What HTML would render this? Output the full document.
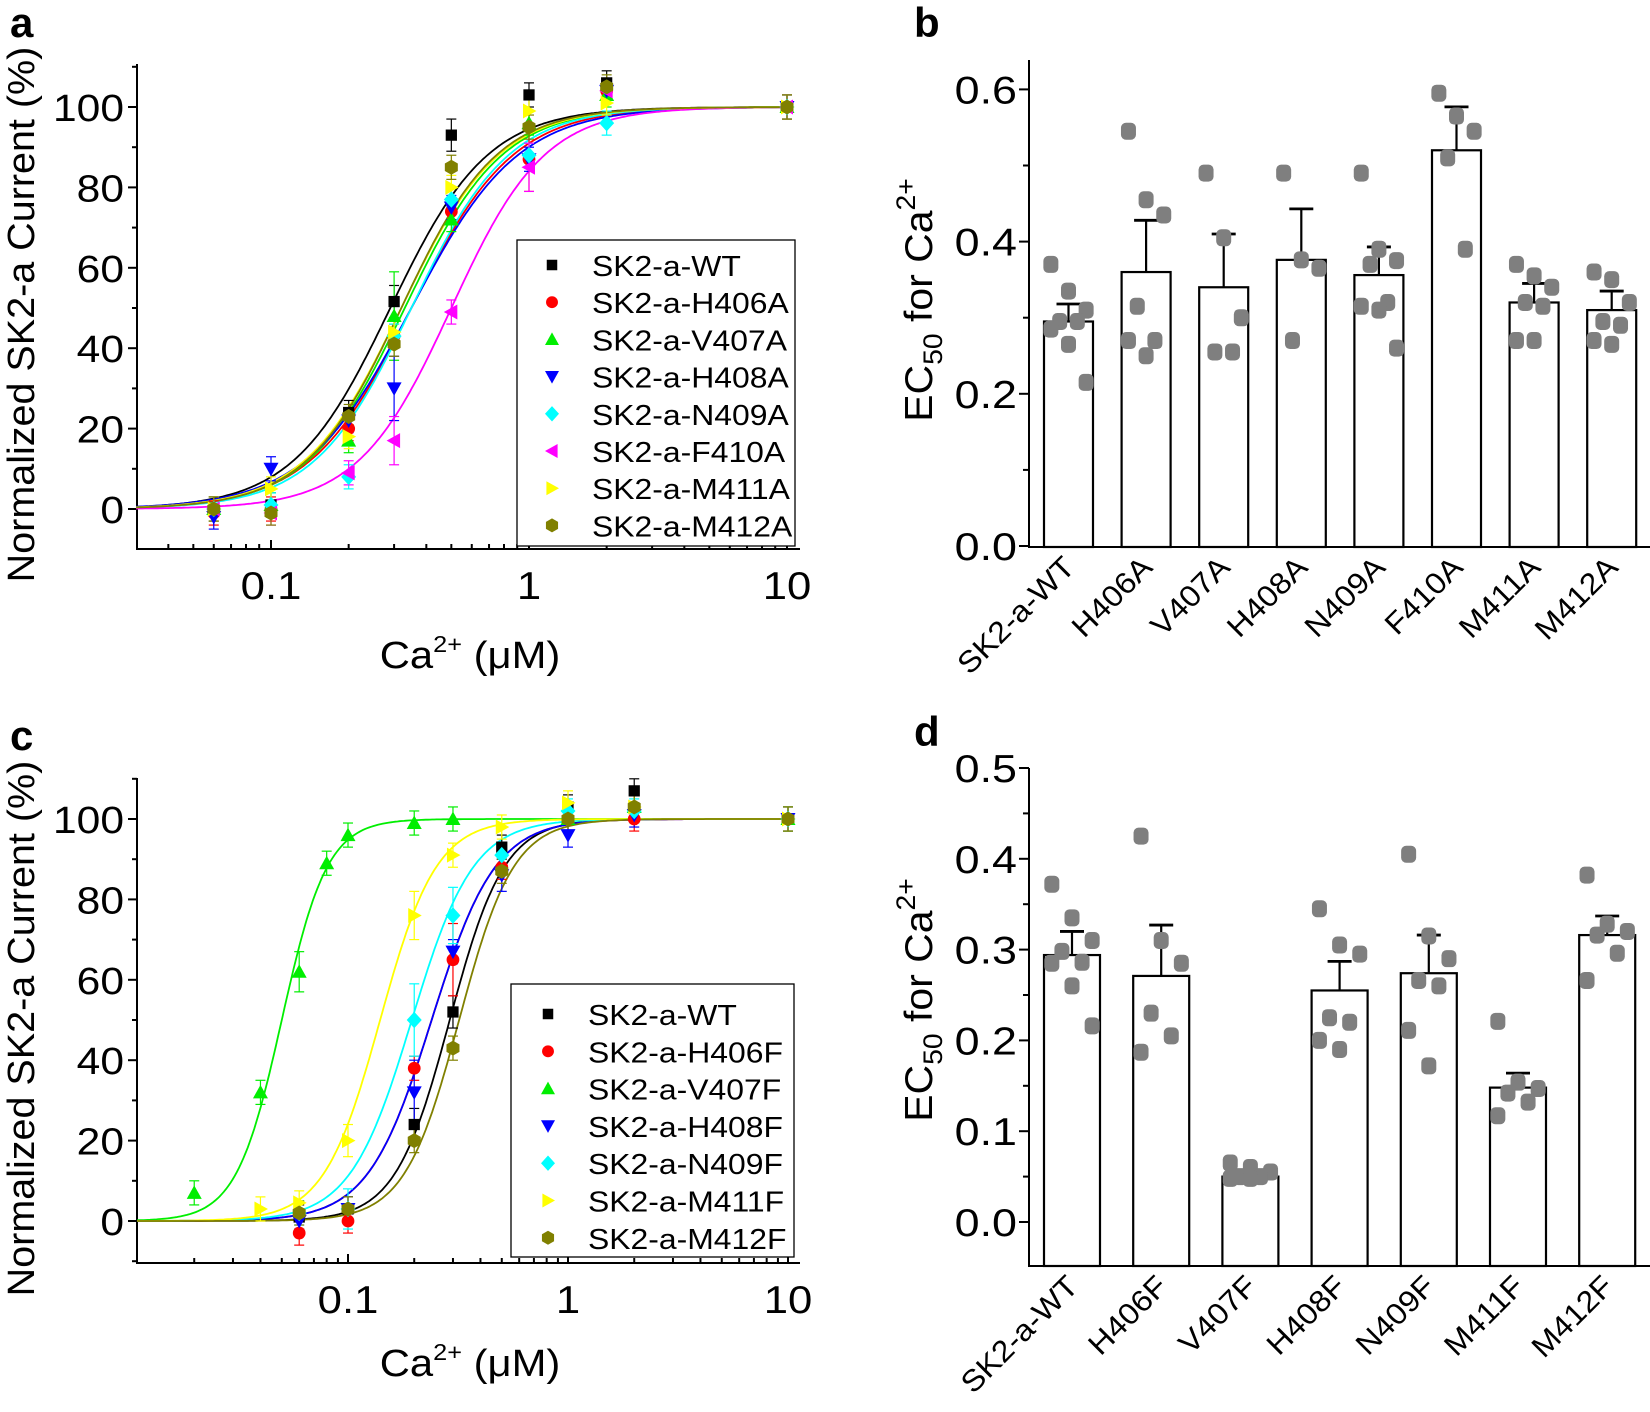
<!DOCTYPE html>
<html><head><meta charset="utf-8">
<style>
html,body{margin:0;padding:0;background:#fff;}
svg{display:block;font-family:"Liberation Sans",Arial,sans-serif;}
</style></head>
<body>
<svg id="s" width="1650" height="1412" viewBox="0 0 1650 1412" xmlns="http://www.w3.org/2000/svg">
<rect width="1650" height="1412" fill="#fff"/>
<g id="g"></g>
</svg>
<script>
let out=[];
function L(x1,y1,x2,y2,c,w){out.push(`<line x1="${x1}" y1="${y1}" x2="${x2}" y2="${y2}" stroke="${c||'#000'}" stroke-width="${w||2}"/>`);}
function T(x,y,t,sz,anchor,extra,sx){sx=sx||1;out.push(`<text transform="translate(${x},${y}) scale(${sx},1)" font-size="${sz}" text-anchor="${anchor||'start'}" ${extra||''}>${t}</text>`);}
function TR(x,y,rot,t,sz,anchor,sx){out.push(`<text transform="translate(${x},${y}) rotate(${rot}) scale(${sx||1},1)" font-size="${sz}" text-anchor="${anchor}">${t}</text>`);}
const cols=["#000000","#ff0000","#00ee00","#0000ff","#00ffff","#ff00ff","#ffff00","#808000"];
function marker(k,x,y,c,s){
  s=s||7;
  let p;
  switch(k){
    case 0: out.push(`<rect x="${x-s*0.75}" y="${y-s*0.75}" width="${s*1.5}" height="${s*1.5}" fill="${c}"/>`);return;
    case 1: out.push(`<circle cx="${x}" cy="${y}" r="${s*0.85}" fill="${c}"/>`);return;
    case 2: p=[[x,y-s],[x+s,y+s*0.8],[x-s,y+s*0.8]];break;
    case 3: p=[[x,y+s],[x+s,y-s*0.8],[x-s,y-s*0.8]];break;
    case 4: p=[[x,y-s*1.1],[x+s,y],[x,y+s*1.1],[x-s,y]];break;
    case 5: p=[[x-s,y],[x+s*0.8,y-s],[x+s*0.8,y+s]];break;
    case 6: p=[[x+s,y],[x-s*0.8,y-s],[x-s*0.8,y+s]];break;
    case 7: p=[];for(let i=0;i<6;i++){let a=Math.PI/6+i*Math.PI/3;p.push([x+s*Math.cos(a),y+s*Math.sin(a)]);}break;
  }
  out.push(`<polygon points="${p.map(q=>q.join(',')).join(' ')}" fill="${c}"/>`);
}
function curvePanel(o){
  const X=v=>o.x01+o.dec*Math.log10(v/0.1);
  const Y=v=>o.y0-v*o.sy;
  L(o.left,o.top,o.left,o.bot);
  L(o.left-1,o.bot,o.right,o.bot);
  for(let v=-10;v<=110;v+=10){
    const y=Y(v); if(y<o.top||y>o.bot) continue;
    const maj=(v%20===0);
    L(o.left-(maj?9:5),y,o.left,y);
    if(maj&&v>=0) T(o.left-13,y+14,String(v),38,"end","",1.12);
  }
  for(let d=-3;d<=1;d++){
    for(let m=1;m<=9;m++){
      const v=m*Math.pow(10,d); const x=X(v);
      if(x<o.left-0.5||x>o.right+0.5) continue;
      L(x,o.bot,x,o.bot-(m===1?9:5));
      if(m===1&&d>=-1) T(x,o.bot+50,d===-1?"0.1":(d===0?"1":"10"),39,"middle","",1.12);
    }
  }
  o.fits.forEach((f,i)=>{
    let d="";
    for(let k=0;k<=300;k++){
      const lx=Math.log10(o.xmin)+(1-Math.log10(o.xmin))*k/300;
      const v=Math.pow(10,lx);
      const y=100/(1+Math.pow(f[0]/v,f[1]));
      d+=(k?"L":"M")+X(v).toFixed(1)+","+Y(y).toFixed(1);
    }
    out.push(`<path d="${d}" fill="none" stroke="${o.ccols[i]}" stroke-width="1.8"/>`);
  });
  o.data.forEach((ser,i)=>{
    ser.forEach(pt=>{
      const x=X(pt[0]),y=Y(pt[1]),e=(pt[2]||3)*o.sy;
      L(x,y-e,x,y+e,o.ccols[i],1.2);L(x-5,y-e,x+5,y-e,o.ccols[i],1.2);L(x-5,y+e,x+5,y+e,o.ccols[i],1.2);
    });
  });
  o.data.forEach((ser,i)=>{ser.forEach(pt=>marker(o.mk[i],X(pt[0]),Y(pt[1]),o.ccols[i],7.5));});
  out.push(`<rect x="${o.lg[0]}" y="${o.lg[1]}" width="${o.lg[2]}" height="${o.lg[3]}" fill="#fff" stroke="#000" stroke-width="1.3"/>`);
  o.names.forEach((n,i)=>{
    const y=o.ly0+i*o.ldy;
    marker(o.mk[i],o.lmx,y,o.ccols[i],7);
    T(o.ltx,y+11,n,29,"start","",1.1);
  });
  T(o.tx,o.ty,'Ca<tspan font-size="23" dy="-16">2+</tspan><tspan dy="16"> (μM)</tspan>',38,"middle","",1.1);
  TR(o.yx,(o.top+o.bot)/2+8,-90,"Normalized SK2-a Current (%)",38,"middle",1.04);
  T(10,o.lab[1],o.lab[0],42,"start",'font-weight="bold"');
}
curvePanel({left:137,right:800,top:64,bot:549,x01:271,dec:258,y0:509,sy:4.02,xmin:0.03,
 fits:[[0.29,2.3],[0.35,2.2],[0.33,2.3],[0.35,2.1],[0.35,2.3],[0.5,2.4],[0.32,2.3],[0.32,2.35]],
 ccols:cols,mk:[0,1,2,3,4,5,6,7],
 data:[
  [[0.06,0],[0.1,1],[0.2,24],[0.3,51.6,4],[0.5,93,4],[1,103,3],[2,106],[10,100]],
  [[0.06,-1],[0.1,0],[0.2,20],[0.3,43],[0.5,74],[1,87,8],[2,104],[10,100]],
  [[0.06,0],[0.1,1],[0.2,17],[0.3,48,11],[0.5,72],[1,96],[2,103],[10,100]],
  [[0.06,-2],[0.1,10,3],[0.2,22],[0.3,30,8],[0.5,75],[1,87],[2,104],[10,100]],
  [[0.06,0],[0.1,1],[0.2,8],[0.3,43],[0.5,77],[1,88],[2,96],[10,100]],
  [[0.06,0],[0.1,-1],[0.2,9],[0.3,17,6],[0.5,49],[1,85,6],[2,104],[10,100]],
  [[0.06,0],[0.1,5],[0.2,18],[0.3,44],[0.5,80],[1,99],[2,101],[10,100]],
  [[0.06,0],[0.1,-1],[0.2,23],[0.3,41],[0.5,85],[1,95],[2,105],[10,100]]],
 lg:[517,240,278,306],ly0:265,ldy:37.2,lmx:552,ltx:592,
 names:["SK2-a-WT","SK2-a-H406A","SK2-a-V407A","SK2-a-H408A","SK2-a-N409A","SK2-a-F410A","SK2-a-M411A","SK2-a-M412A"],
 tx:470,ty:668,yx:34,lab:["a",37]});
curvePanel({left:137,right:800,top:778,bot:1263,x01:348,dec:220,y0:1221,sy:4.02,xmin:0.011,
 fits:[[0.29,3.5],[0.24,3.0],[0.05,4.2],[0.24,3.0],[0.195,3.1],[0.14,3.4],[0.32,3.5]],
 ccols:["#000000","#ff0000","#00ee00","#0000ff","#00ffff","#ffff00","#808000"],mk:[0,1,2,3,4,6,7],
 data:[
  [[0.06,1],[0.1,3],[0.2,24,4],[0.3,52,4],[0.5,93],[1,103],[2,107],[10,100]],
  [[0.06,-3],[0.1,0],[0.2,38],[0.3,65,9],[0.5,88],[1,100],[2,100],[10,100]],
  [[0.02,7],[0.04,32],[0.06,62,5],[0.08,89],[0.1,96],[0.2,99],[0.3,100],[1,100],[2,103],[10,100]],
  [[0.06,0],[0.1,3],[0.2,32,8],[0.3,67],[0.5,86,4],[1,96],[2,101],[10,100]],
  [[0.06,2],[0.1,3,5],[0.2,50,9],[0.3,76,7],[0.5,91],[1,102],[2,102],[10,100]],
  [[0.04,3],[0.06,4.5],[0.1,20,4],[0.2,76,6],[0.3,91],[0.5,98],[1,104],[2,103],[10,100]],
  [[0.06,2],[0.1,3],[0.2,20],[0.3,43,3],[0.5,87],[1,100],[2,103],[10,100]]],
 lg:[511,984,283,273],ly0:1014,ldy:37.3,lmx:548,ltx:588,
 names:["SK2-a-WT","SK2-a-H406F","SK2-a-V407F","SK2-a-H408F","SK2-a-N409F","SK2-a-M411F","SK2-a-M412F"],
 tx:470,ty:1376,yx:34,lab:["c",750]});

function barPanel(o){
  const Y=v=>o.y0-v*o.sy;
  L(o.left,o.top,o.left,o.bot);
  L(o.left-1,o.bot,1650,o.bot);
  o.ticks.forEach(t=>{
    const y=Y(t[0]); L(o.left-(t[1]?10:6),y,o.left,y);
    if(t[1]) T(o.left-12,y+14,t[0].toFixed(1),39,"end","",1.15);
  });
  o.vals.forEach((v,i)=>{
    const x=o.x0+i*o.dx, cx=x+o.w/2;
    out.push(`<rect x="${x}" y="${Y(v)}" width="${o.w}" height="${o.bot-Y(v)}" fill="#fff" stroke="#000" stroke-width="2.2"/>`);
    const ey=Y(o.errs[i]);
    L(cx,Y(v),cx,ey,"#000",2.2);L(cx-12,ey,cx+12,ey,"#000",2.8);
    o.pts[i].forEach((p,j)=>{
      const off=((j*37)%5-2)*o.w*0.18;
      out.push(`<rect x="${cx+off-7.5}" y="${Y(p)-8.5}" width="15" height="17" rx="5" fill="#7f7f7f"/>`);
    });
    TR(cx+8,o.bot+22,-45,o.names[i],30,"end",1.08);
  });
  TR(o.yx,o.ycy,-90,'EC<tspan font-size="27" dy="10">50</tspan><tspan dy="-10"> for Ca</tspan><tspan font-size="27" dy="-17">2+</tspan>',39,"middle",1.05);
  T(o.lab[1],o.lab[2],o.lab[0],42,"start",'font-weight="bold"');
}
barPanel({left:1029,top:60,bot:547,y0:546,sy:761,x0:1044,dx:77.6,w:49,
 ticks:[[0,1],[0.1,0],[0.2,1],[0.3,0],[0.4,1],[0.5,0],[0.6,1]],
 vals:[.295,.36,.34,.376,.356,.52,.32,.31],errs:[.318,.428,.41,.443,.393,.577,.345,.335],
 pts:[[.37,.335,.31,.295,.295,.285,.265,.215],[.545,.455,.435,.315,.27,.27,.25],[.49,.405,.3,.255,.255],[.49,.376,.365,.27],[.49,.39,.375,.37,.32,.315,.31,.26],[.595,.565,.545,.51,.39],[.37,.355,.34,.32,.315,.27,.27],[.36,.35,.32,.295,.29,.27,.265]],
 names:["SK2-a-WT","H406A","V407A","H408A","N409A","F410A","M411A","M412A"],
 yx:932,ycy:300,lab:["b",914,37]});
barPanel({left:1029,top:768,bot:1266,y0:1222,sy:908,x0:1044,dx:89.2,w:56,
 ticks:[[0,1],[0.05,0],[0.1,1],[0.15,0],[0.2,1],[0.25,0],[0.3,1],[0.35,0],[0.4,1],[0.45,0],[0.5,1]],
 vals:[.294,.271,.05,.255,.274,.148,.316],errs:[.32,.327,.05,.287,.316,.164,.337],
 pts:[[.372,.335,.31,.298,.286,.285,.26,.216],[.425,.31,.285,.23,.205,.187],[.065,.06,.055,.05,.05,.048,.048],[.345,.305,.295,.225,.22,.2,.19],[.405,.315,.29,.266,.26,.211,.172],[.221,.154,.147,.142,.132,.117],[.382,.328,.32,.316,.296,.266]],
 names:["SK2-a-WT","H406F","V407F","H408F","N409F","M411F","M412F"],
 yx:932,ycy:1000,lab:["d",914,746]});
document.getElementById("g").innerHTML=out.join("");
</script>
</body></html>
